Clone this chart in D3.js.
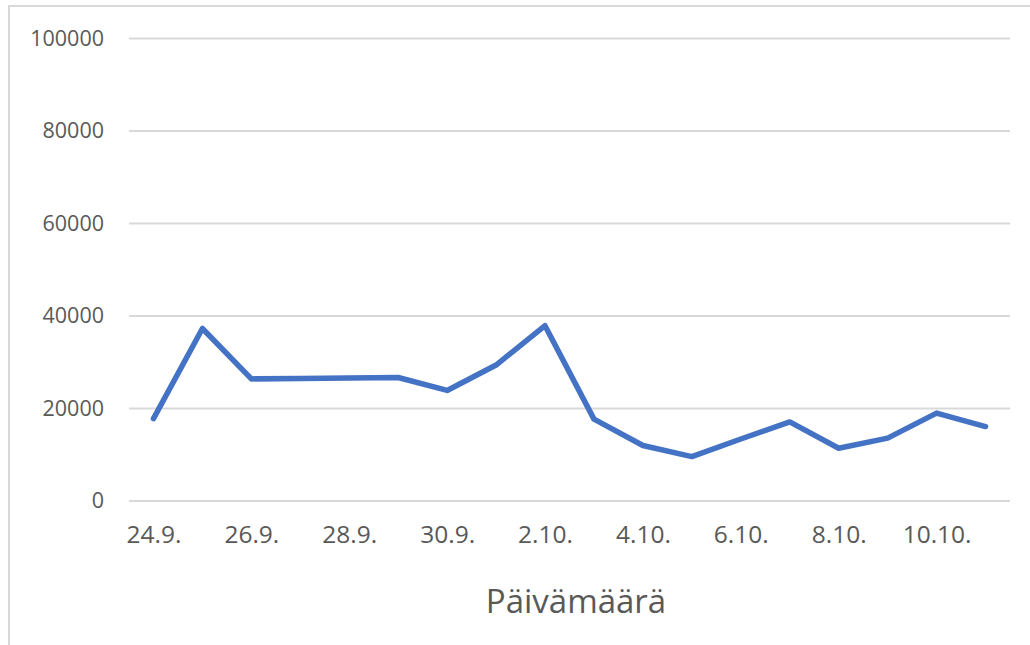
<!DOCTYPE html>
<html>
<head>
<meta charset="utf-8">
<script src="https://cdn.jsdelivr.net/npm/d3@7"></script>
<style>
  html, body { margin: 0; padding: 0; background: #ffffff; }
  svg { display: block; }
</style>
</head>
<body>
<svg id="chart" width="1030" height="645"></svg>
<script>
const categories = ["24.9.","25.9.","26.9.","27.9.","28.9.","29.9.","30.9.","1.10.","2.10.","3.10.","4.10.","5.10.","6.10.","7.10.","8.10.","9.10.","10.10.","11.10."];
const values = [17800, 37300, 26400, 26500, 26600, 26700, 23900, 29400, 37900, 17700, 12000, 9600, 13400, 17100, 11400, 13600, 19000, 16100];
const yTicks = [0, 20000, 40000, 60000, 80000, 100000];
const xTickLabels = ["24.9.","26.9.","28.9.","30.9.","2.10.","4.10.","6.10.","8.10.","10.10."];
const xTitle = "Päivämäärä";

const svg = d3.select("#chart");
const W = 1030, H = 645;
const plot = { left: 129, right: 1010, top: 38.5, bottom: 501 };

// outer frame (left and top edges visible)
svg.append("path")
  .attr("d", `M9,${H} L9,6 L${W},6`)
  .attr("fill", "none")
  .attr("stroke", "#d9d9d9")
  .attr("stroke-width", 2);

const x = d3.scalePoint().domain(categories).range([plot.left, plot.right]).padding(0.5);
const y = d3.scaleLinear().domain([0, 100000]).range([plot.bottom, plot.top]);

// gridlines
svg.append("g").selectAll("line").data(yTicks).join("line")
  .attr("x1", plot.left).attr("x2", plot.right)
  .attr("y1", d => y(d)).attr("y2", d => y(d))
  .attr("stroke", "#d9d9d9").attr("stroke-width", 1.8);

// y axis labels
const yAxis = d3.axisLeft(y).tickValues(yTicks).tickSize(0).tickPadding(0).tickFormat(d3.format("d"));
const gy = svg.append("g").attr("transform", `translate(104,0)`).call(yAxis);
gy.select(".domain").remove();
gy.selectAll("text")
  .attr("fill", "#595959")
  .style("font-family", "'Open Sans', sans-serif")
  .style("font-size", "21.5px");

// x axis labels
const xAxis = d3.axisBottom(x).tickValues(xTickLabels).tickSize(0).tickPadding(0);
const gx = svg.append("g").attr("transform", `translate(0,526)`).call(xAxis);
gx.select(".domain").remove();
gx.selectAll("text")
  .attr("fill", "#595959")
  .attr("dy", "0.71em")
  .style("font-family", "'Open Sans', sans-serif")
  .style("font-size", "24.5px");

// axis title
svg.append("text")
  .attr("x", 576).attr("y", 613)
  .attr("text-anchor", "middle")
  .attr("fill", "#595959")
  .style("font-family", "'Open Sans', sans-serif")
  .style("font-size", "33px")
  .text(xTitle);

// line
const line = d3.line().x((d, i) => x(categories[i])).y(d => y(d));
svg.append("path")
  .datum(values)
  .attr("d", line)
  .attr("fill", "none")
  .attr("stroke", "#4472c4")
  .attr("stroke-width", 5.5)
  .attr("stroke-linejoin", "round")
  .attr("stroke-linecap", "round");
</script>
</body>
</html>
